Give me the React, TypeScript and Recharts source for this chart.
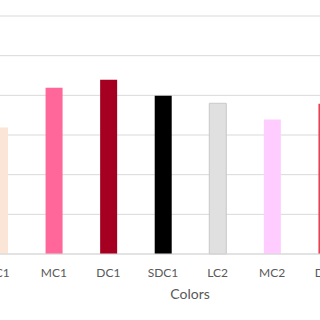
import React from 'react';
import { BarChart, Bar, XAxis, YAxis, CartesianGrid, Cell } from 'recharts';

const categories = ['LC1', 'MC1', 'DC1', 'SDC1', 'LC2', 'MC2', 'DC2'];
const values = [3.19, 4.19, 4.39, 3.99, 3.8, 3.39, 3.79];
const yTicks = [0, 1, 2, 3, 4, 5, 6];

const fills = ['#FBE5D6', '#FF6699', '#A50021', '#000000', '#E0E0E0', '#FFCCFF', '#E8414F'];
const strokes = ['none', 'none', 'none', 'none', '#C9C9C9', 'none', 'none'];

const data = categories.map((c, i) => ({ name: c, value: values[i] }));

export default function App() {
  return (
    <div style={{ position: 'absolute', left: 0, top: 0, width: 320, height: 320, overflow: 'hidden', background: '#fff' }}>
      <div style={{ position: 'absolute', left: -28, top: 0 }}>
        <BarChart width={382} height={320} data={data} margin={{ top: 16, right: 0, bottom: 16, left: 0 }}>
          <CartesianGrid horizontal vertical={false} stroke="#D9D9D9" strokeWidth={1} />
          <YAxis hide domain={[0, 6]} ticks={yTicks} />
          <XAxis
            dataKey="name"
            height={50}
            axisLine={{ stroke: '#D9D9D9' }}
            tickLine={false}
            tickMargin={8}
            tick={{ fill: '#595959', fontSize: 12, fontFamily: 'Lato, "Open Sans", sans-serif' }}
            label={{ value: 'Colors', position: 'insideBottom', offset: 5, dx: 27, fill: '#595959', fontSize: 14, fontFamily: 'Lato, "Open Sans", sans-serif' }}
          />
          <Bar dataKey="value" barSize={17} isAnimationActive={false}>
            {data.map((d, i) => (
              <Cell key={d.name} fill={fills[i]} stroke={strokes[i]} strokeWidth={1} />
            ))}
          </Bar>
        </BarChart>
      </div>
    </div>
  );
}
